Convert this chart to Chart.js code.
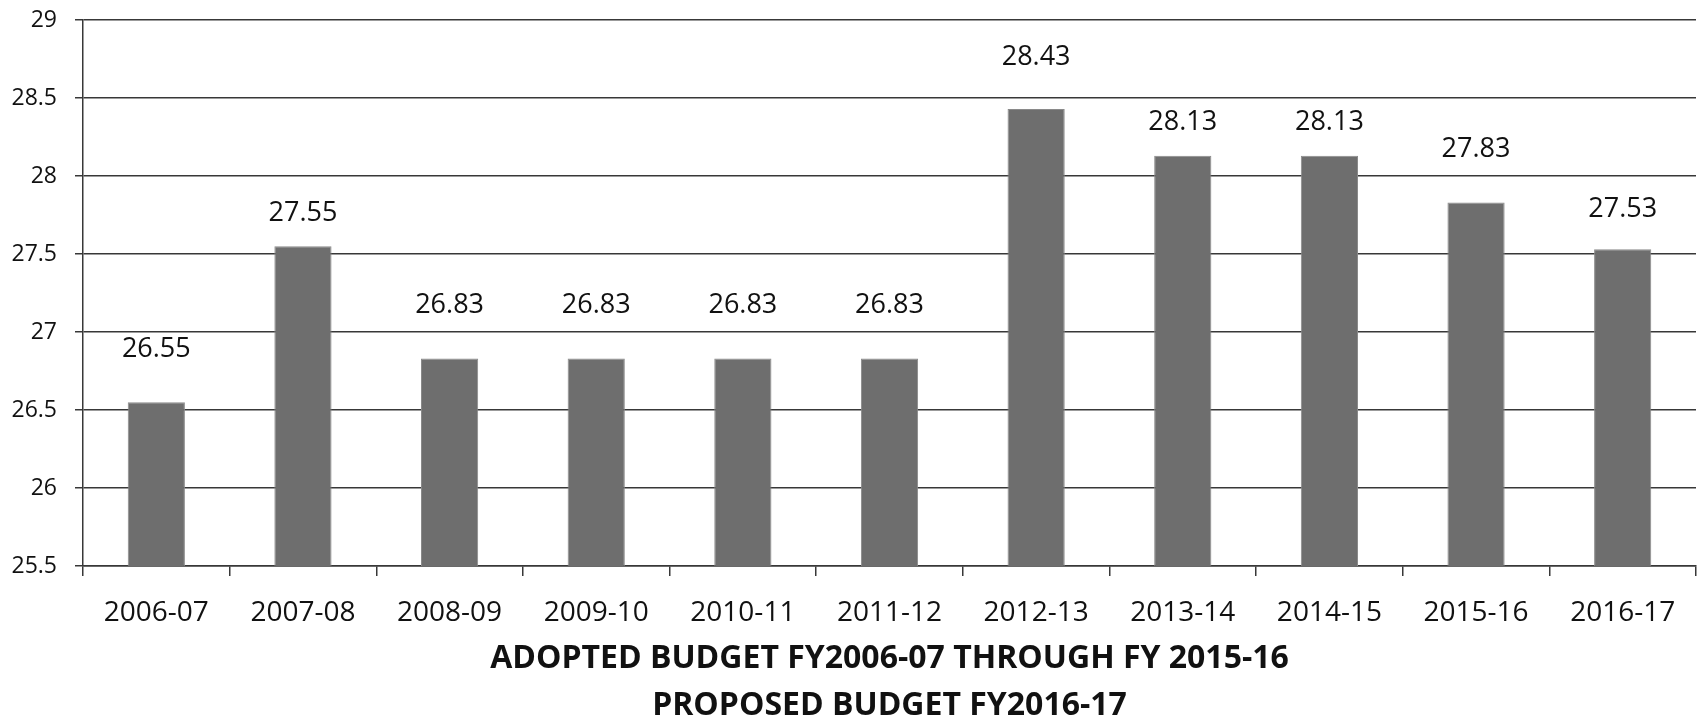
<!DOCTYPE html>
<html>
<head>
<meta charset="utf-8">
<script src="https://cdn.jsdelivr.net/npm/chart.js@4.4.1/dist/chart.umd.min.js"></script>
<style>
  html, body { margin: 0; padding: 0; background: #fff; }
  #wrap { width: 1698px; height: 722px; }
</style>
</head>
<body>
<div id="wrap"><canvas id="c" width="1698" height="722"></canvas></div>
<script>
const categories = ['2006-07','2007-08','2008-09','2009-10','2010-11','2011-12','2012-13','2013-14','2014-15','2015-16','2016-17'];
const values = [26.55, 27.55, 26.83, 26.83, 26.83, 26.83, 28.43, 28.13, 28.13, 27.83, 27.53];
const valueLabels = ['26.55','27.55','26.83','26.83','26.83','26.83','28.43','28.13','28.13','27.83','27.53'];
const yMin = 25.5, yMax = 29, yStep = 0.5;
const titleLines = ['ADOPTED BUDGET FY2006-07 THROUGH FY 2015-16', 'PROPOSED BUDGET FY2016-17'];

const FONT = '"Open Sans", "DejaVu Sans", sans-serif';
const GRID = '#383838';

// label placement above each bar (style only), in pixels
const labelStyle = { gapAboveBar: [53, 33, 53, 53, 53, 53, 52, 33, 33, 53, 40] };

const valueLabelPlugin = {
  id: 'valueLabels',
  afterDatasetsDraw(chart) {
    const ctx = chart.ctx;
    const meta = chart.getDatasetMeta(0);
    ctx.save();
    ctx.font = '27px ' + FONT;
    ctx.fillStyle = '#111';
    ctx.textAlign = 'center';
    ctx.textBaseline = 'middle';
    meta.data.forEach((bar, i) => {
      ctx.fillText(valueLabels[i], bar.x, bar.y - labelStyle.gapAboveBar[i]);
    });
    ctx.restore();
  }
};

new Chart(document.getElementById('c'), {
  type: 'bar',
  data: {
    labels: categories,
    datasets: [{
      data: values,
      backgroundColor: '#6e6e6e',
      borderColor: '#8a8a8a',
      borderWidth: 1,
      barPercentage: 0.39,
      categoryPercentage: 1.0
    }]
  },
  options: {
    responsive: false,
    animation: false,
    devicePixelRatio: 1,
    layout: { padding: { top: 20, right: 2, bottom: 0, left: 0 } },
    plugins: {
      legend: { display: false },
      tooltip: { enabled: false },
      title: { display: false }
    },
    scales: {
      x: {
        offset: true,
        grid: {
          display: true,
          drawOnChartArea: false,
          drawTicks: true,
          tickLength: 10,
          color: GRID,
          lineWidth: 1.5,
          offset: true
        },
        border: { display: true, color: GRID, width: 1.5 },
        ticks: {
          font: { family: FONT, size: 28 },
          color: '#111',
          padding: 20,
          maxRotation: 0,
          autoSkip: false
        },
        title: {
          display: true,
          text: titleLines,
          font: { family: FONT, size: 32, weight: 'bold', lineHeight: '47px' },
          color: '#111',
          padding: { top: 0, bottom: -7 }
        },
        afterFit(scale) { scale.height = 156; }
      },
      y: {
        min: yMin,
        max: yMax,
        grid: {
          color: GRID,
          lineWidth: 1.5,
          tickLength: 8
        },
        border: { display: true, color: GRID, width: 1.5 },
        ticks: {
          stepSize: yStep,
          font: { family: FONT, size: 23 },
          color: '#111',
          padding: 18,
          callback: (v) => String(Math.round(v * 10) / 10)
        },
        afterFit(scale) {
          scale.width = 83;
          scale.paddingTop = 0;
          scale.paddingBottom = 0;
        }
      }
    }
  },
  plugins: [valueLabelPlugin]
});
</script>
</body>
</html>
